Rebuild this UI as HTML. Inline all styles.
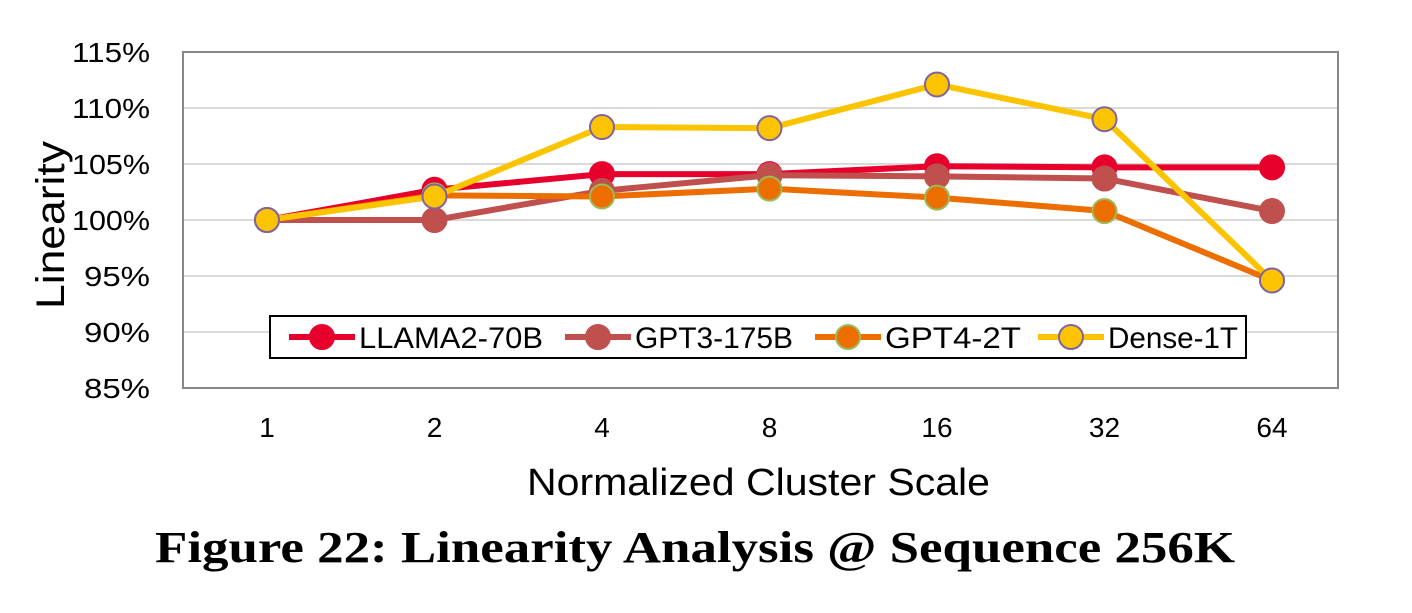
<!DOCTYPE html>
<html><head><meta charset="utf-8"><style>
body{margin:0;background:#fff;width:1412px;height:608px;overflow:hidden}
svg text{font-family:"Liberation Sans",sans-serif}
</style></head><body>
<svg id="chart" width="1412" height="608">
<rect x="183" y="52" width="1155" height="336" fill="none" stroke="#888" stroke-width="2"/>
<g id="grid"></g><g id="series"></g>
<text x="50" y="225" font-size="40" text-anchor="middle" textLength="168" lengthAdjust="spacingAndGlyphs" transform="rotate(-90 50 225)" dy="14">Linearity</text>
<text x="527" y="495" font-size="38" textLength="463" lengthAdjust="spacingAndGlyphs">Normalized Cluster Scale</text>
<text x="155" y="562" font-size="44" font-weight="bold" textLength="1080" lengthAdjust="spacingAndGlyphs" style="font-family:'Liberation Serif',serif">Figure 22: Linearity Analysis @ Sequence 256K</text>
<g id="legend"></g>
</svg>
<script>
const categories=["1","2","4","8","16","32","64"];
const yTicks=[85,90,95,100,105,110,115];
const llama=[100,102.7,104.1,104.1,104.8,104.7,104.7];
const gpt3=[100,100,102.6,104.0,103.9,103.7,100.8];
const gpt4=[100,102.2,102.1,102.8,102.0,100.8,94.6];
const dense=[100,102.1,108.3,108.2,112.1,109.0,94.6];
const names=["LLAMA2-70B","GPT3-175B","GPT4-2T","Dense-1T"];
const NS="http://www.w3.org/2000/svg";
const x=i=>267+i*167.5;
const y=v=>388-(v-85)*(336/30);
function mk(t,a,p){const e=document.createElementNS(NS,t);for(const k in a)e.setAttribute(k,a[k]);p.appendChild(e);return e;}
const grid=document.getElementById('grid');
yTicks.forEach(v=>{
 if(v>85&&v<115){const l=mk('line',{x1:184,x2:1337,y1:y(v),y2:y(v),stroke:'#d9d9d9','stroke-width':2},grid);
 
 }
 const s=v+'%';
 const t=mk('text',{x:150,y:y(v)+10,'font-size':28,'text-anchor':'end',textLength:s.length===4?78:66,lengthAdjust:'spacingAndGlyphs'},grid);t.textContent=s;
 
 
});
categories.forEach((c,i)=>{const t=mk('text',{x:x(i),y:437,'font-size':28,'text-anchor':'middle'},grid);t.textContent=c;
 
 });
const styles=[{c:'#e8002d',s:'#e8002d'},{c:'#c0504d',s:'#c0504d'},{c:'#ed6e00',s:'#9bbb59'},{c:'#fcc400',s:'#8064a2'}];
const data=[llama,gpt3,gpt4,dense];
const sg=document.getElementById('series');
data.forEach((d,k)=>{
 const g=mk('g',{},sg);
 
 
 mk('polyline',{points:d.map((v,i)=>x(i)+','+y(v)).join(' '),fill:'none',stroke:styles[k].c,'stroke-width':6,'stroke-linejoin':'round'},g);
 d.forEach((v,i)=>{const c=mk('circle',{cx:x(i),cy:y(v),r:12,fill:styles[k].c,stroke:styles[k].s,'stroke-width':2},g);
 
 });
});
const lg=document.getElementById('legend');
mk('rect',{x:270,y:316,width:976,height:42,fill:'#fff',stroke:'#000','stroke-width':2},lg);
const lx=[289,565,815,1038];
const tl=[184,158,136,130];
names.forEach((n,k)=>{
 const g=mk('g',{},lg);
 
 
 mk('line',{x1:lx[k],x2:lx[k]+66,y1:337,y2:337,stroke:styles[k].c,'stroke-width':6},g);
 mk('circle',{cx:lx[k]+33,cy:337,r:12,fill:styles[k].c,stroke:styles[k].s,'stroke-width':2},g);
 const t=mk('text',{x:lx[k]+70,y:348,'font-size':30,textLength:tl[k],lengthAdjust:'spacingAndGlyphs'},g);t.textContent=n;
});
</script>
</body></html>
